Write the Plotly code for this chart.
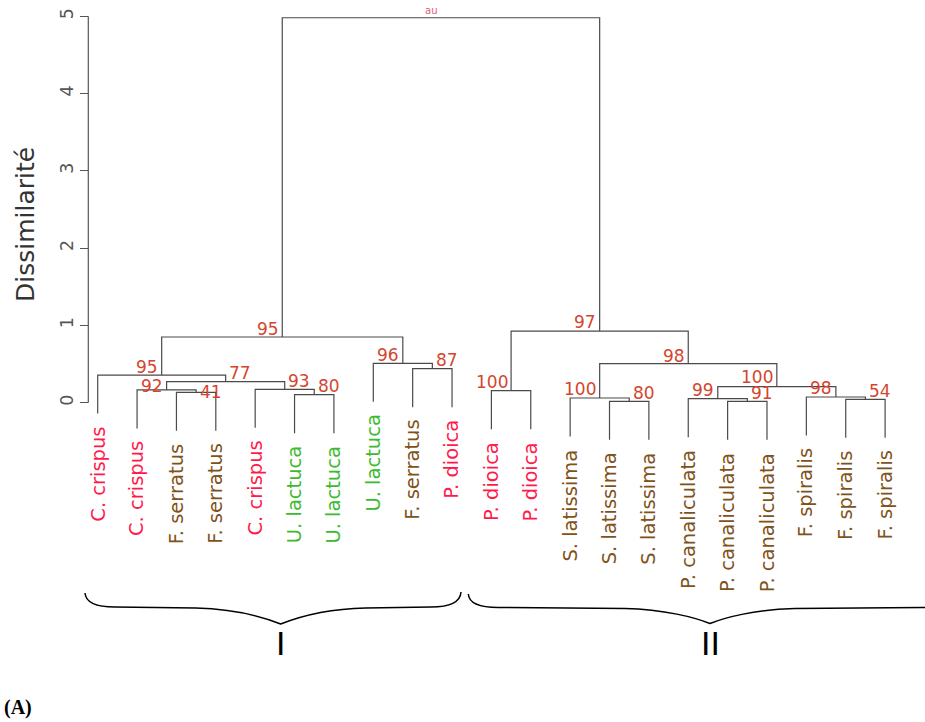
import plotly.graph_objects as go

# ---------------- data ----------------
leaf_labels = ["C. crispus", "C. crispus", "F. serratus", "F. serratus", "C. crispus",
               "U. lactuca", "U. lactuca", "U. lactuca", "F. serratus", "P. dioica",
               "P. dioica", "P. dioica", "S. latissima", "S. latissima", "S. latissima",
               "P. canaliculata", "P. canaliculata", "P. canaliculata",
               "F. spiralis", "F. spiralis", "F. spiralis"]
leaf_groups = ["rouge", "rouge", "brune", "brune", "rouge",
               "verte", "verte", "verte", "brune", "rouge",
               "rouge", "rouge", "brune", "brune", "brune",
               "brune", "brune", "brune", "brune", "brune", "brune"]

# hclust-style merges: negative = leaf (1-based, in plotting order), positive = earlier merge
merge_left = [-14, -17, -20, -16, -13, -19, -6, -3, -11, -2, -5, 4, 10, -1, -9, -8, 5, 14, 9, 18]
merge_right = [-15, -18, -21, 2, 1, 3, -7, -4, -12, 8, 7, 6, 11, 13, -10, 15, 12, 16, 17, 19]
merge_heights = [0.018, 0.018, 0.044, 0.052, 0.061, 0.074, 0.104, 0.134, 0.155, 0.165,
                 0.173, 0.207, 0.272, 0.358, 0.44, 0.51, 0.505, 0.85, 0.927, 4.98]
au_values = [80, 91, 54, 99, 100, 98, 80, 41, 100, 92,
             93, 100, 77, 95, 87, 96, 98, 95, 97, None]
cluster_names = ["I", "II"]
y_ticks = [0, 1, 2, 3, 4, 5]
y_title = "Dissimilarité"
panel_label = "(A)"

# ---------------- styles ----------------
group_colors = {"rouge": "#FF1A4B", "brune": "#7F5219", "verte": "#3DBB2F"}
au_color = "#D4452F"
line_color = "#4a4a4a"
# label placement (style): side of node and vertical shift in px
au_side = ["left", "left", "left", "right", "right", "right", "left", "left", "right", "right",
           "left", "right", "left", "right", "left", "right", "right", "right", "right", None]
au_yshift = [8, 8, 8, 8.5, 8.5, 8.5, 8.5, 0, 8.5, 4,
             8.5, 9.5, 8.5, 8.5, 8.5, 8, 8, 8.5, 9, 0]

W, H = 925, 722
PX_LEAF1, PX_STEP = 97.7, 39.37
PX_Y0, PX_UNIT = 402.7, 77.3
AXIS_PX = 88.3

x_range = [1 - PX_LEAF1 / PX_STEP, 1 + (W - PX_LEAF1) / PX_STEP]
y_range = [(PX_Y0 - H) / PX_UNIT, PX_Y0 / PX_UNIT]

hang = 0.1 * max(merge_heights)

# ---------------- dendrogram layout ----------------
node_x = {}
xs, ys = [], []


def child_pos(c):
    if c < 0:
        return float(-c)
    return node_x[c]


for k, (a, b, h) in enumerate(zip(merge_left, merge_right, merge_heights), start=1):
    xa, xb = child_pos(a), child_pos(b)
    ya = merge_heights[a - 1] if a > 0 else h - hang
    yb = merge_heights[b - 1] if b > 0 else h - hang
    node_x[k] = (xa + xb) / 2
    xs += [xa, xa, xb, xb, None]
    ys += [ya, h, h, yb, None]

fig = go.Figure()
fig.add_trace(go.Scatter(x=xs, y=ys, mode="lines",
                         line=dict(color=line_color, width=1.2),
                         hoverinfo="skip", showlegend=False))

annotations = []
# AU values
for k, (v, side, ysh) in enumerate(zip(au_values, au_side, au_yshift), start=1):
    if v is None:
        continue
    annotations.append(dict(
        x=node_x[k], y=merge_heights[k - 1], xref="x", yref="y",
        text=str(v), showarrow=False,
        xanchor=side, yanchor="middle",
        xshift=(-1.5 if side == "right" else 1.5), yshift=ysh,
        font=dict(family="DejaVu Sans", size=17, color=au_color)))

# "au" legend at root
root = len(merge_heights)
annotations.append(dict(
    x=node_x[root], y=merge_heights[root - 1], xref="x", yref="y",
    text="au", showarrow=False, xanchor="center", yanchor="bottom",
    xshift=-10, yshift=0,
    font=dict(family="DejaVu Sans", size=10, color="#E0607A")))

# leaf labels
leaf_parent_h = {}
for k, (a, b, h) in enumerate(zip(merge_left, merge_right, merge_heights), start=1):
    for c in (a, b):
        if c < 0:
            leaf_parent_h[-c] = h
for i, (lab, grp) in enumerate(zip(leaf_labels, leaf_groups), start=1):
    annotations.append(dict(
        x=i, y=leaf_parent_h[i] - hang, xref="x", yref="y",
        text=lab, showarrow=False, textangle=-90,
        xanchor="center", yanchor="top", yshift=-11,
        font=dict(family="DejaVu Sans", size=19.5, color=group_colors[grp])))

# y axis title
annotations.append(dict(
    x=25 / W, y=1 - 225 / H, xref="paper", yref="paper",
    text=y_title, showarrow=False, textangle=-90,
    xanchor="center", yanchor="middle",
    font=dict(family="DejaVu Sans", size=25, color="#333333")))


# cluster braces + names
def px(xp, yp):
    return xp / W, 1 - yp / H


def brace_path(xl, xt, xr, yt_l, yt_r, yh, ytip):
    def P(x, y):
        a, b = px(x, y)
        return f"{a:.5f},{b:.5f}"
    d = (f"M {P(xl, yt_l)} Q {P(xl + 1, yh)} {P(xl + 30, yh)} "
         f"L {P(xt - 85, yh + 1)} "
         f"C {P(xt - 45, yh + 2)} {P(xt - 15, ytip - 6)} {P(xt, ytip)} "
         f"C {P(xt + 15, ytip - 6)} {P(xt + 45, yh + 2)} {P(xt + 85, yh + 1)} "
         f"L {P(xr - 30, yh)} Q {P(xr - 1, yh)} {P(xr, yt_r)}")
    return d


braces = [(85, 280.7, 461, 593, 592, 607, 624),
          (468.3, 710, 952, 594, 594, 607.5, 623.5)]
shapes = []
for (xl, xt, xr, ytl, ytr, yh, ytip), name in zip(braces, cluster_names):
    shapes.append(dict(type="path", xref="paper", yref="paper",
                       path=brace_path(xl, xt, xr, ytl, ytr, yh, ytip),
                       line=dict(color="black", width=1.5)))
    a, b = px(xt, 643.5)
    annotations.append(dict(x=a, y=b, xref="paper", yref="paper", text=name,
                            showarrow=False, xanchor="center", yanchor="middle",
                            font=dict(family="DejaVu Sans", size=32, color="black")))

# panel label
a, b = px(2, 707)
annotations.append(dict(x=a, y=b, xref="paper", yref="paper", text=f"<b>{panel_label}</b>",
                        showarrow=False, xanchor="left", yanchor="middle",
                        font=dict(family="Liberation Serif", size=20, color="black")))

# y-axis line (from 0 to 5 only, R style)
axis_x = x_range[0] + AXIS_PX / W * (x_range[1] - x_range[0])
shapes.append(dict(type="line", xref="x", yref="y", x0=axis_x, x1=axis_x,
                   y0=min(y_ticks), y1=max(y_ticks),
                   line=dict(color="#555555", width=1.2)))

fig.update_layout(
    width=W, height=H, autosize=False,
    margin=dict(l=0, r=0, t=0, b=0, pad=0),
    paper_bgcolor="white", plot_bgcolor="white",
    showlegend=False,
    xaxis=dict(range=x_range, visible=False, domain=[0, 1]),
    yaxis=dict(range=y_range, anchor="free", position=AXIS_PX / W,
               domain=[0, 1],
               tickmode="array", tickvals=y_ticks, ticktext=[str(t) for t in y_ticks],
               ticks="outside", ticklen=8, tickwidth=1.2, tickcolor="#555555",
               tickangle=-90, ticklabelstandoff=0,
               tickfont=dict(family="DejaVu Sans", size=17.5, color="#555555"),
               showline=False, showgrid=False, zeroline=False, automargin=False),
    annotations=annotations,
    shapes=shapes,
)

fig.write_html("out.html", config={"displayModeBar": False},
               post_script="document.body.style.margin='0px';document.body.style.overflow='hidden';")
